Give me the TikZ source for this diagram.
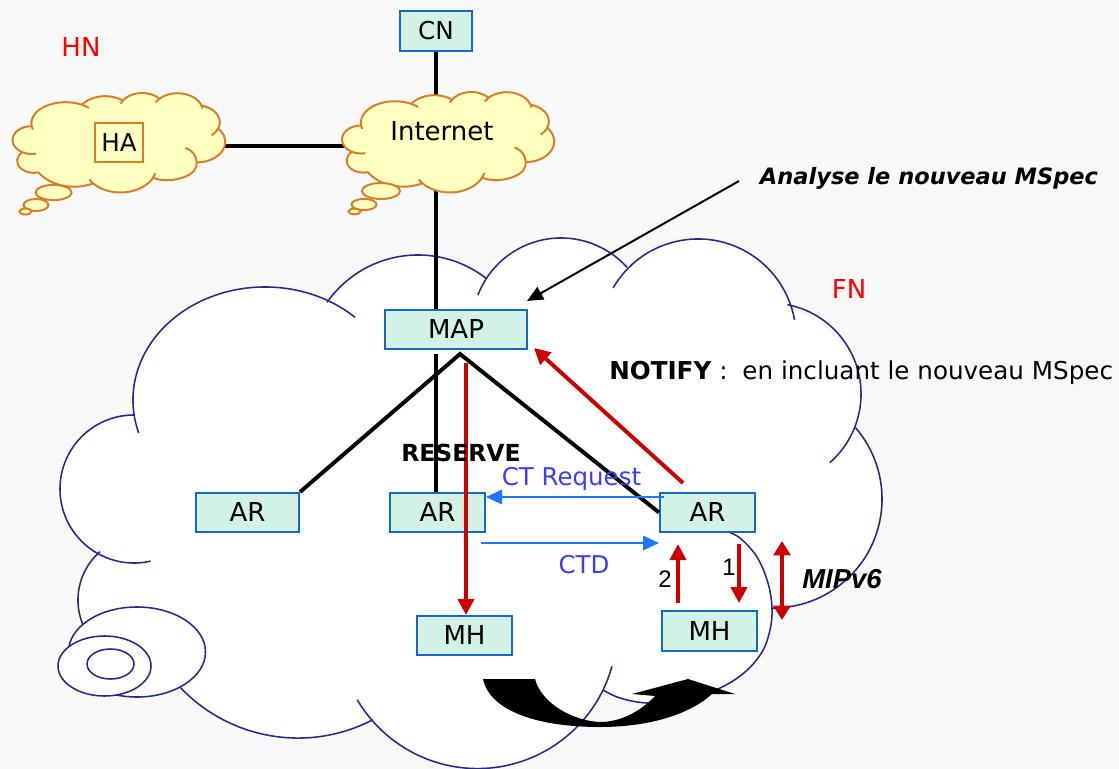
\documentclass[tikz,border=0pt]{standalone}
\usepackage{fontspec}
\setmainfont{DejaVu Sans}[ItalicFont={DejaVu Sans Oblique},BoldItalicFont={DejaVu Sans Bold Oblique}]
\newfontfamily\arialf{Liberation Sans}
\usetikzlibrary{arrows.meta}
\definecolor{bgc}{RGB}{248,248,248}
\definecolor{navyc}{RGB}{40,40,140}
\definecolor{boxfill}{RGB}{210,242,230}
\definecolor{boxline}{RGB}{20,105,200}
\definecolor{cloudy}{RGB}{255,255,192}
\definecolor{cloudo}{RGB}{215,125,40}
\definecolor{redc}{RGB}{204,0,0}
\definecolor{bluearr}{RGB}{30,120,255}
\definecolor{bluetxt}{RGB}{60,60,255}
\newcommand\fsBox{\fontsize{18.5}{20}\selectfont}
\newcommand\fsTxt{\fontsize{17.5}{19}\selectfont}
% lobe: cx, cy, start angle, end angle, x radius, y radius
\newcommand\lobe[6]{\draw ([shift={(#3:#5 and #6)}]#1,#2) arc[start angle=#3, end angle=#4, x radius=#5, y radius=#6];}
\newcommand\drawCloud[3]{%
  \path[fill=#1] plot[smooth cycle, tension=0.55] coordinates {
    (327,302) (296,291) (261,287) (200,299) (161,330) (143,360) (133,398) (133,415)
    (97,425) (70,452) (60,489) (70,526) (100,552)
    (84,575) (78,600) (82,622) (101,649) (131,663) (160,661)
    (194,700) (243,728) (298,738) (340,733) (373,720)
    (395,738) (412,753) (440,764) (478,768) (520,763) (555,749) (582,725) (603,690)
    (620,698) (647,703) (683,701) (720,688) (745,672) (762,652) (770,630) (772,608)
    (781,606) (810,600) (840,585) (863,560) (876,530) (881,495) (872,455) (856,428)
    (862,412) (862,388) (848,354) (822,325) (788,305)
    (774,278) (738,248) (699,239) (659,245) (628,267)
    (596,247) (561,238) (525,243) (493,262) (487,279)
    (454,262) (418,255) (385,260) (359,273)};
  \begin{scope}[draw=#2, line width=#3]
  \lobe{265}{400}{47}{197}{3.3cm}{2.825cm}
  \lobe{418}{366}{145}{52}{2.775cm}{2.775cm}
  \lobe{561}{327}{159}{42}{2.225cm}{2.225cm}
  \lobe{698}{337}{150}{10}{2.45cm}{2.45cm}
  \lobe{770}{394}{79}{-49}{2.275cm}{2.275cm}
  \lobe{773}{499}{41}{-90}{2.725cm}{2.725cm}
  \draw plot[smooth, tension=0.6] coordinates {(728,532) (740,538) (757,557) (768,583) (772,608) (770,630) (762,652) (745,672) (720,688) (683,701) (647,703) (620,698) (603,690)};
  \lobe{477.5}{629}{-15.5}{-149.6}{3.4875cm}{3.4875cm}
  \lobe{298}{576}{211.6}{297.5}{4.05cm}{4.05cm}
  \lobe{142}{600}{131}{286.4}{1.6cm}{1.6cm}
  \lobe{134}{489}{90}{283}{1.85cm}{1.85cm}
  \end{scope}}
\tikzset{
  box/.style={draw=boxline, fill=boxfill, line width=1.4pt, inner sep=0pt, minimum height=0.975cm, font=\fsBox},
  blk/.style={line width=2.8pt, draw=black, line join=miter},
  redarr/.style={draw=redc, line width=2.8pt, -{Triangle[length=0.4cm, width=0.4cm]}},
  redarr2/.style={draw=redc, line width=2.8pt, {Triangle[length=0.36cm, width=0.42cm]}-{Triangle[length=0.36cm, width=0.42cm]}},
  bluearrow/.style={draw=bluearr, line width=1.4pt, -{Triangle[length=0.4cm, width=0.36cm]}},
  tailA/.style={fill=cloudy, draw=cloudo, line width=1.4pt},
  tailB/.style={fill=white, draw=navyc, line width=1.1pt}
}
\begin{document}
\begin{tikzpicture}[x=0.025cm, y=-0.025cm]
\useasboundingbox (0,0) rectangle (1119,769);
\fill[bgc] (0,0) rectangle (1119,769);
% big foreign network cloud
\drawCloud{white}{navyc}{1.1pt}
\path[tailB] (137,652) ellipse [x radius=1.7125cm, y radius=1.125cm];
\path[tailB] (104.5,666) ellipse [x radius=1.1625cm, y radius=0.75cm];
\path[tailB] (110.5,664) ellipse [x radius=0.5875cm, y radius=0.375cm];
% curved black move arrow
\fill[black] (483,679) -- (535,679) .. controls (542,705) and (575,721) .. (600,722)
  .. controls (622,722) and (642,710) .. (655,696) -- (632,694) -- (688,679) -- (735,694) -- (712,694)
  .. controls (690,714) and (650,727) .. (600,727) .. controls (540,727) and (490,712) .. (483,679) -- cycle;
% boxes
\node[box, minimum width=1.8cm, minimum height=1cm, font=\fontsize{17.5}{19}\selectfont] (CN) at (436,31) {CN};
\node[box, minimum width=3.55cm] (MAP) at (456,329.5) {MAP};
\node[box, minimum width=2.575cm] (AR1) at (247.5,512.5) {AR};
\node[box, minimum width=2.375cm] (AR2) at (437.5,512.5) {AR};
\node[box, minimum width=2.375cm] (AR3) at (707.5,512.5) {AR};
\node[box, minimum width=2.375cm] (MH1) at (464.5,635.5) {MH};
\node[box, minimum width=2.375cm, minimum height=1cm] (MH2) at (709.5,631) {MH};
% coordinates
\coordinate (haC) at (119,146);
\coordinate (inetC) at (436,146);
\coordinate (inetT) at (436,131);
\coordinate (mapbl) at (436,354);
\coordinate (apex) at (460,354);
\coordinate (mapred) at (466,363);
\coordinate (notS) at (683,483);
\coordinate (notE) at (534,348);
\coordinate (a2S) at (678,603);
\coordinate (a2E) at (678,544);
\coordinate (a1S) at (739,544);
\coordinate (a1E) at (739,603);
\coordinate (mipS) at (782,541);
\coordinate (mipE) at (782,620);
\coordinate (ctrS) at (664,497);
\coordinate (ctdS) at (481,543);
\coordinate (anS) at (739,181);
\coordinate (anE) at (527,301);
% black links
\draw[blk] (CN.south) -- (inetT);
\draw[blk] (haC) -- (inetC);
\draw[blk] (inetT) -- (inetT |- MAP.north);
\draw[blk] (mapbl) -- (mapbl |- AR2.north);
\draw[blk] (AR1.north east) -- (apex) -- (AR3.west);
% small clouds
\begin{scope}[shift={(-3.03,48.37)}]
\begin{scope}[xscale=0.2588, yscale=0.1875]
\drawCloud{cloudy}{cloudo}{1.4pt}
\end{scope}
\end{scope}
\begin{scope}[shift={(326.5,46.9)}]
\begin{scope}[xscale=0.2582, yscale=0.1894]
\drawCloud{cloudy}{cloudo}{1.4pt}
\end{scope}
\end{scope}
\path[tailA] (53.6,192.5) ellipse [x radius=0.45cm, y radius=0.19cm];
\path[tailA] (36,205) ellipse [x radius=0.3125cm, y radius=0.15cm];
\path[tailA] (25.5,211.5) ellipse [x radius=0.15cm, y radius=0.075cm];
\path[tailA] (381,191) ellipse [x radius=0.475cm, y radius=0.2cm];
\path[tailA] (364,204.5) ellipse [x radius=0.3125cm, y radius=0.14cm];
\path[tailA] (354.5,211.5) ellipse [x radius=0.15cm, y radius=0.07cm];
\node[draw=cloudo, fill=cloudy, line width=1.4pt, inner sep=0pt, minimum width=1.2cm, minimum height=0.975cm, font=\fontsize{17.5}{19}\selectfont] (HA) at (119,142.5) {HA};
\node[font=\fontsize{18.5}{20}\selectfont] (inet) at (442,131) {Internet};
% red arrows
\draw[redarr] (mapred) -- (mapred |- MH1.north);
\draw[redarr] (notS) -- (notE);
\draw[redarr] (a2S) -- (a2E);
\draw[redarr] (a1S) -- (a1E);
\draw[redarr2] (mipS) -- (mipE);
% blue arrows
\draw[bluearrow] (ctrS) -- (ctrS -| AR2.east);
\draw[bluearrow] (ctdS) -- (ctdS -| AR3.west);
% analyse arrow
\draw[line width=1.4pt, -{Triangle[length=0.4cm, width=0.35cm]}] (anS) -- (anE);
% labels
\node[text=red, font=\fontsize{18.5}{20}\selectfont] (HN) at (81,47) {HN};
\node[text=red, font=\fontsize{18.5}{20}\selectfont] (FN) at (849,289) {FN};
\node[anchor=west, font=\fsTxt, inner sep=0pt] (notify) at (609,373) {\textbf{NOTIFY} :\hspace{0.6em}en incluant le nouveau MSpec};
\node[font=\fontsize{16.7}{19}\selectfont\bfseries] (reserve) at (461,453) {RESERVE};
\node[text=bluetxt, font=\fontsize{17.4}{19}\selectfont] (ctreq) at (571.5,479) {CT Request};
\node[text=bluetxt, font=\fontsize{17.4}{19}\selectfont] (ctd) at (584,565) {CTD};
\node[font=\fontsize{16}{19}\selectfont\bfseries\itshape] (analyse) at (929,178) {Analyse le nouveau MSpec};
\node[font=\fontsize{19.5}{21}\selectfont\arialf\bfseries\itshape] (mip) at (842,579) {MIPv6};
\node[font=\fontsize{17}{19}\selectfont\arialf] (n1) at (729,567) {1};
\node[font=\fontsize{17}{19}\selectfont\arialf] (n2) at (665,579) {2};
\end{tikzpicture}
\end{document}
